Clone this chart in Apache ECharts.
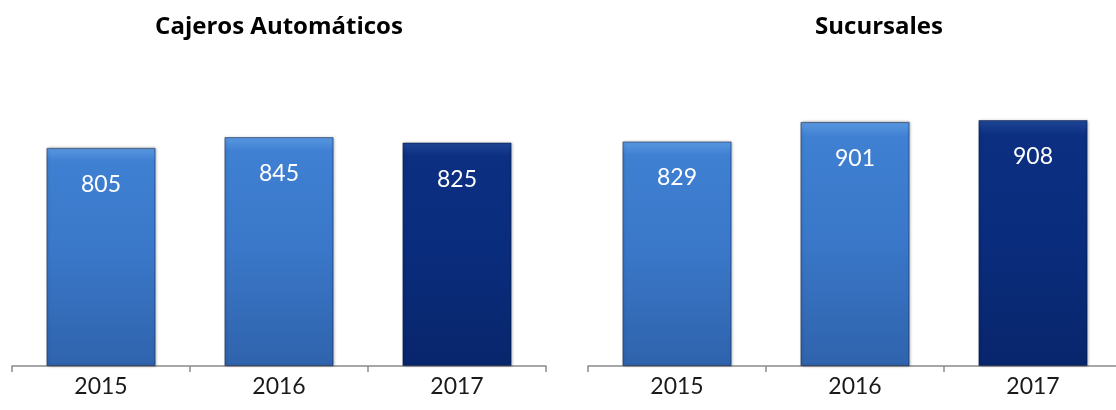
<!DOCTYPE html>
<html><head><meta charset="utf-8">
<script src="https://cdn.jsdelivr.net/npm/echarts@6/dist/echarts.min.js"></script>
<style>html,body{margin:0;padding:0;background:#fff}#c{width:1116px;height:410px}</style>
</head><body><div id="c"></div>
<script>
const years = ['2015', '2016', '2017'];
const cajeros = [805, 845, 825];
const sucursales = [829, 901, 908];
const titles = ['Cajeros Automáticos', 'Sucursales'];

const light = new echarts.graphic.LinearGradient(0, 0, 0, 1, [
  {offset: 0, color: '#5a98e0'}, {offset: 0.06, color: '#3f80d2'},
  {offset: 0.5, color: '#3a77c8'}, {offset: 1, color: '#2f63ac'}]);
const dark = new echarts.graphic.LinearGradient(0, 0, 0, 1, [
  {offset: 0, color: '#1e4594'}, {offset: 0.06, color: '#0c2f82'},
  {offset: 0.5, color: '#0a2c7c'}, {offset: 1, color: '#08266c'}]);

function makeData(vals) {
  return vals.map((v, i) => ({value: v, itemStyle: {color: i === 2 ? dark : light}}));
}
const font = 'Lato, "Open Sans", sans-serif';
const tfont = '"Open Sans", Lato, sans-serif';
const grids = [
  {left: 12, width: 534, bottom: 44, top: 95.2, outerBoundsMode: 'none'},
  {left: 588, width: 534, bottom: 44, top: 95.2, outerBoundsMode: 'none'}];
const xAxes = grids.map((g, i) => ({
  type: 'category', gridIndex: i, data: years,
  axisLine: {show: true, lineStyle: {color: '#8a8a8a', width: 1.5}},
  axisTick: {show: true, length: 6, lineStyle: {color: '#8a8a8a', width: 1.5}},
  axisLabel: {color: '#1a1a1a', fontSize: 23, fontFamily: font, margin: 9}
}));
const yAxes = grids.map((g, i) => ({
  type: 'value', gridIndex: i, min: 0, max: 1000, show: false, splitLine: {show: false}
}));
const series = [cajeros, sucursales].map((vals, i) => ({
  type: 'bar', xAxisIndex: i, yAxisIndex: i, barWidth: 109,
  data: makeData(vals),
  itemStyle: {shadowColor: 'rgba(0,0,0,0.35)', shadowBlur: 3, shadowOffsetX: 1, borderColor: 'rgba(0,20,60,0.6)', borderWidth: 0.8},
  label: {show: true, position: 'insideTop', distance: 25, color: '#fff', fontSize: 23, fontFamily: font}
}));
const chart = echarts.init(document.getElementById('c'));
chart.setOption({
  animation: false,
  title: [
    {text: titles[0], left: 274, top: 10, textAlign: 'center', textStyle: {fontSize: 24, fontWeight: 'bold', fontFamily: tfont, color: '#000'}},
    {text: titles[1], left: 874, top: 10, textAlign: 'center', textStyle: {fontSize: 24, fontWeight: 'bold', fontFamily: tfont, color: '#000'}}
  ],
  grid: grids, xAxis: xAxes, yAxis: yAxes, series: series
});
</script></body></html>
